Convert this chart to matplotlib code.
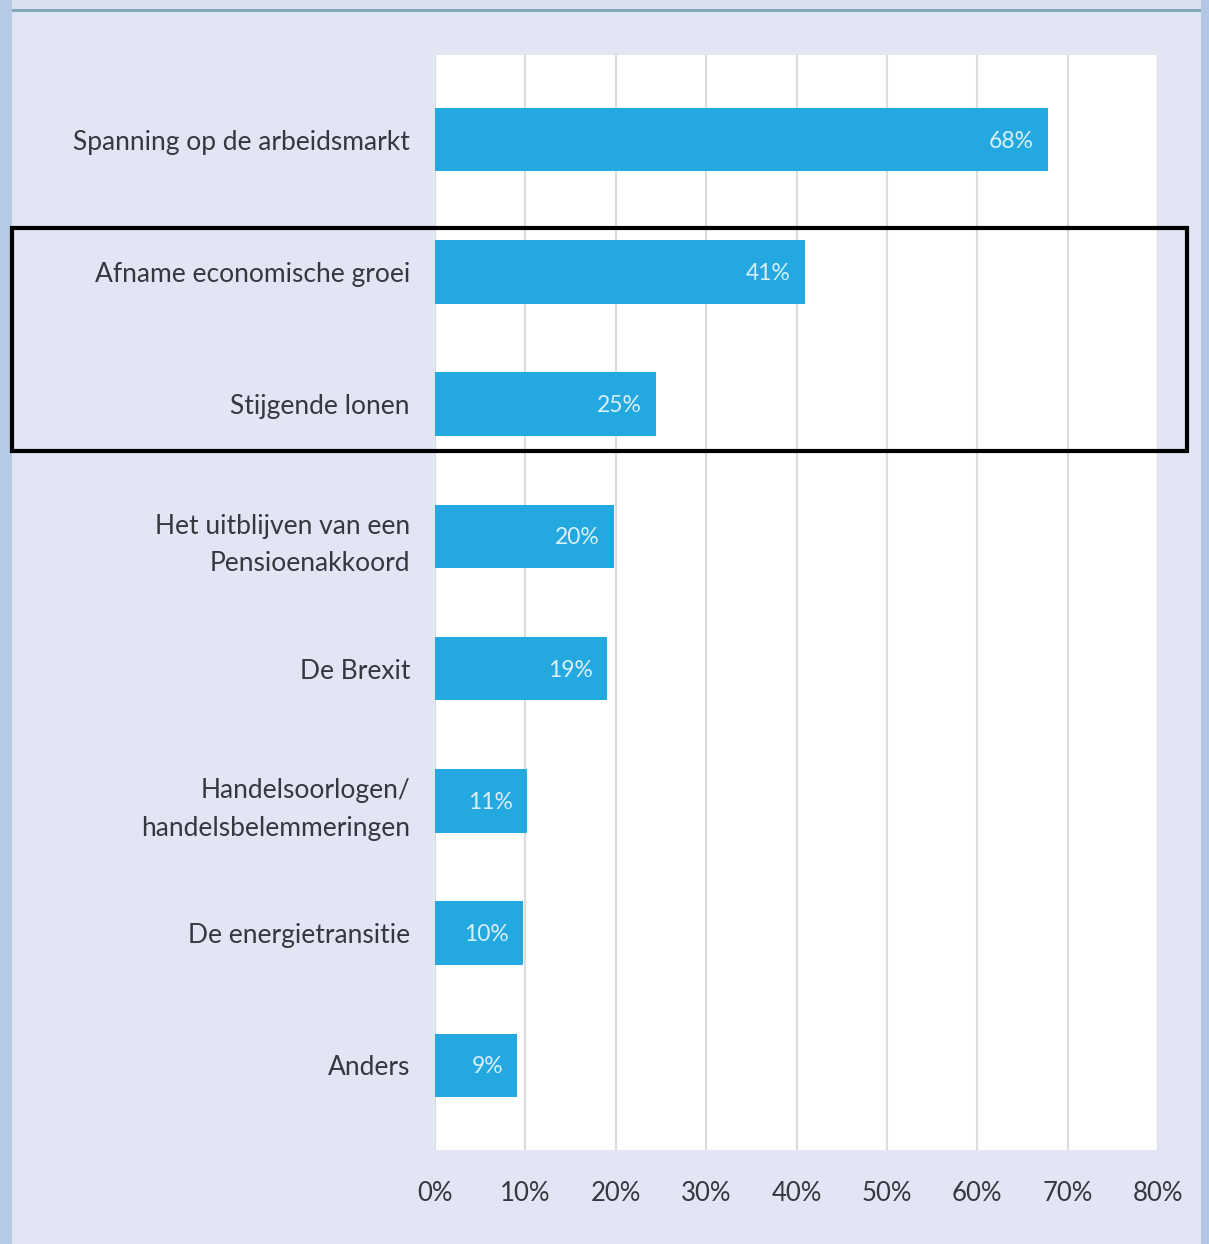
import matplotlib.pyplot as plt
from matplotlib.patches import Rectangle

plt.rcParams["font.family"] = ["Lato", "DejaVu Sans"]

categories = [
	"Spanning op de arbeidsmarkt",
	"Afname economische groei",
	"Stijgende lonen",
	"Het uitblijven van een\nPensioenakkoord",
	"De Brexit",
	"Handelsoorlogen/\nhandelsbelemmeringen",
	"De energietransitie",
	"Anders",
]
values = [67.8, 40.9, 24.4, 19.8, 19.0, 10.2, 9.7, 9.1]
value_labels = ["68%", "41%", "25%", "20%", "19%", "11%", "10%", "9%"]
x_ticks = [0, 10, 20, 30, 40, 50, 60, 70, 80]
x_tick_labels = [f"{t}%" for t in x_ticks]

BAR_COLOR = "#23a8e0"
TEXT_COLOR = "#35383f"
PANEL_BG = "#e1e5f4"

fig = plt.figure(figsize=(12.09, 12.44), dpi=100)
fig.patch.set_facecolor("#d8e0ef")

# panel background, side strips and top rule
fig.add_artist(Rectangle((12 / 1209, 0), 1189 / 1209, 1 - 12 / 1244,
	transform=fig.transFigure, facecolor=PANEL_BG, edgecolor="none", zorder=0))
fig.add_artist(Rectangle((0, 0), 12 / 1209, 1,
	transform=fig.transFigure, facecolor="#b6c9e7", edgecolor="none", zorder=0))
fig.add_artist(Rectangle((1201 / 1209, 0), 8 / 1209, 1,
	transform=fig.transFigure, facecolor="#b3c6e5", edgecolor="none", zorder=0))
fig.add_artist(Rectangle((12 / 1209, 1 - 12 / 1244), 1189 / 1209, 3 / 1244,
	transform=fig.transFigure, facecolor="#82a8ba", edgecolor="none", zorder=0))

ax = fig.add_axes([435 / 1209, 1 - 1150 / 1244, 723 / 1209, 1095 / 1244])
ax.set_facecolor("white")

ypos = list(range(len(categories)))
ax.barh(ypos, values, height=0.48, color=BAR_COLOR, zorder=3)

for y, v, lab in zip(ypos, values, value_labels):
	ax.annotate(
		lab, xy=(v, y), xytext=(-10, -1), textcoords="offset points",
		ha="right", va="center", color="#d9f0fb", fontsize=16.5, zorder=4,
	)

ax.set_xlim(0, 80)
ax.set_ylim(len(categories) - 1 + 0.64, -0.64)
ax.set_xticks(x_ticks)
ax.set_xticklabels(x_tick_labels, fontsize=18.5, color=TEXT_COLOR)
ax.set_yticks(ypos)
ax.set_yticklabels(categories, fontsize=19, color=TEXT_COLOR, linespacing=1.62)
ax.tick_params(axis="both", length=0)
ax.tick_params(axis="y", pad=18)
ax.tick_params(axis="x", pad=22)
ax.grid(axis="x", color="#dcdcdc", linewidth=1.5, zorder=0)
for spine in ax.spines.values():
	spine.set_visible(False)

# highlight box around two bars
fig.add_artist(Rectangle((12 / 1209, 1 - 451 / 1244), 1175 / 1209, 223 / 1244,
	transform=fig.transFigure, facecolor="none", edgecolor="black",
	linewidth=3, zorder=10))

fig.savefig("out.png", dpi=100, facecolor=fig.get_facecolor())
